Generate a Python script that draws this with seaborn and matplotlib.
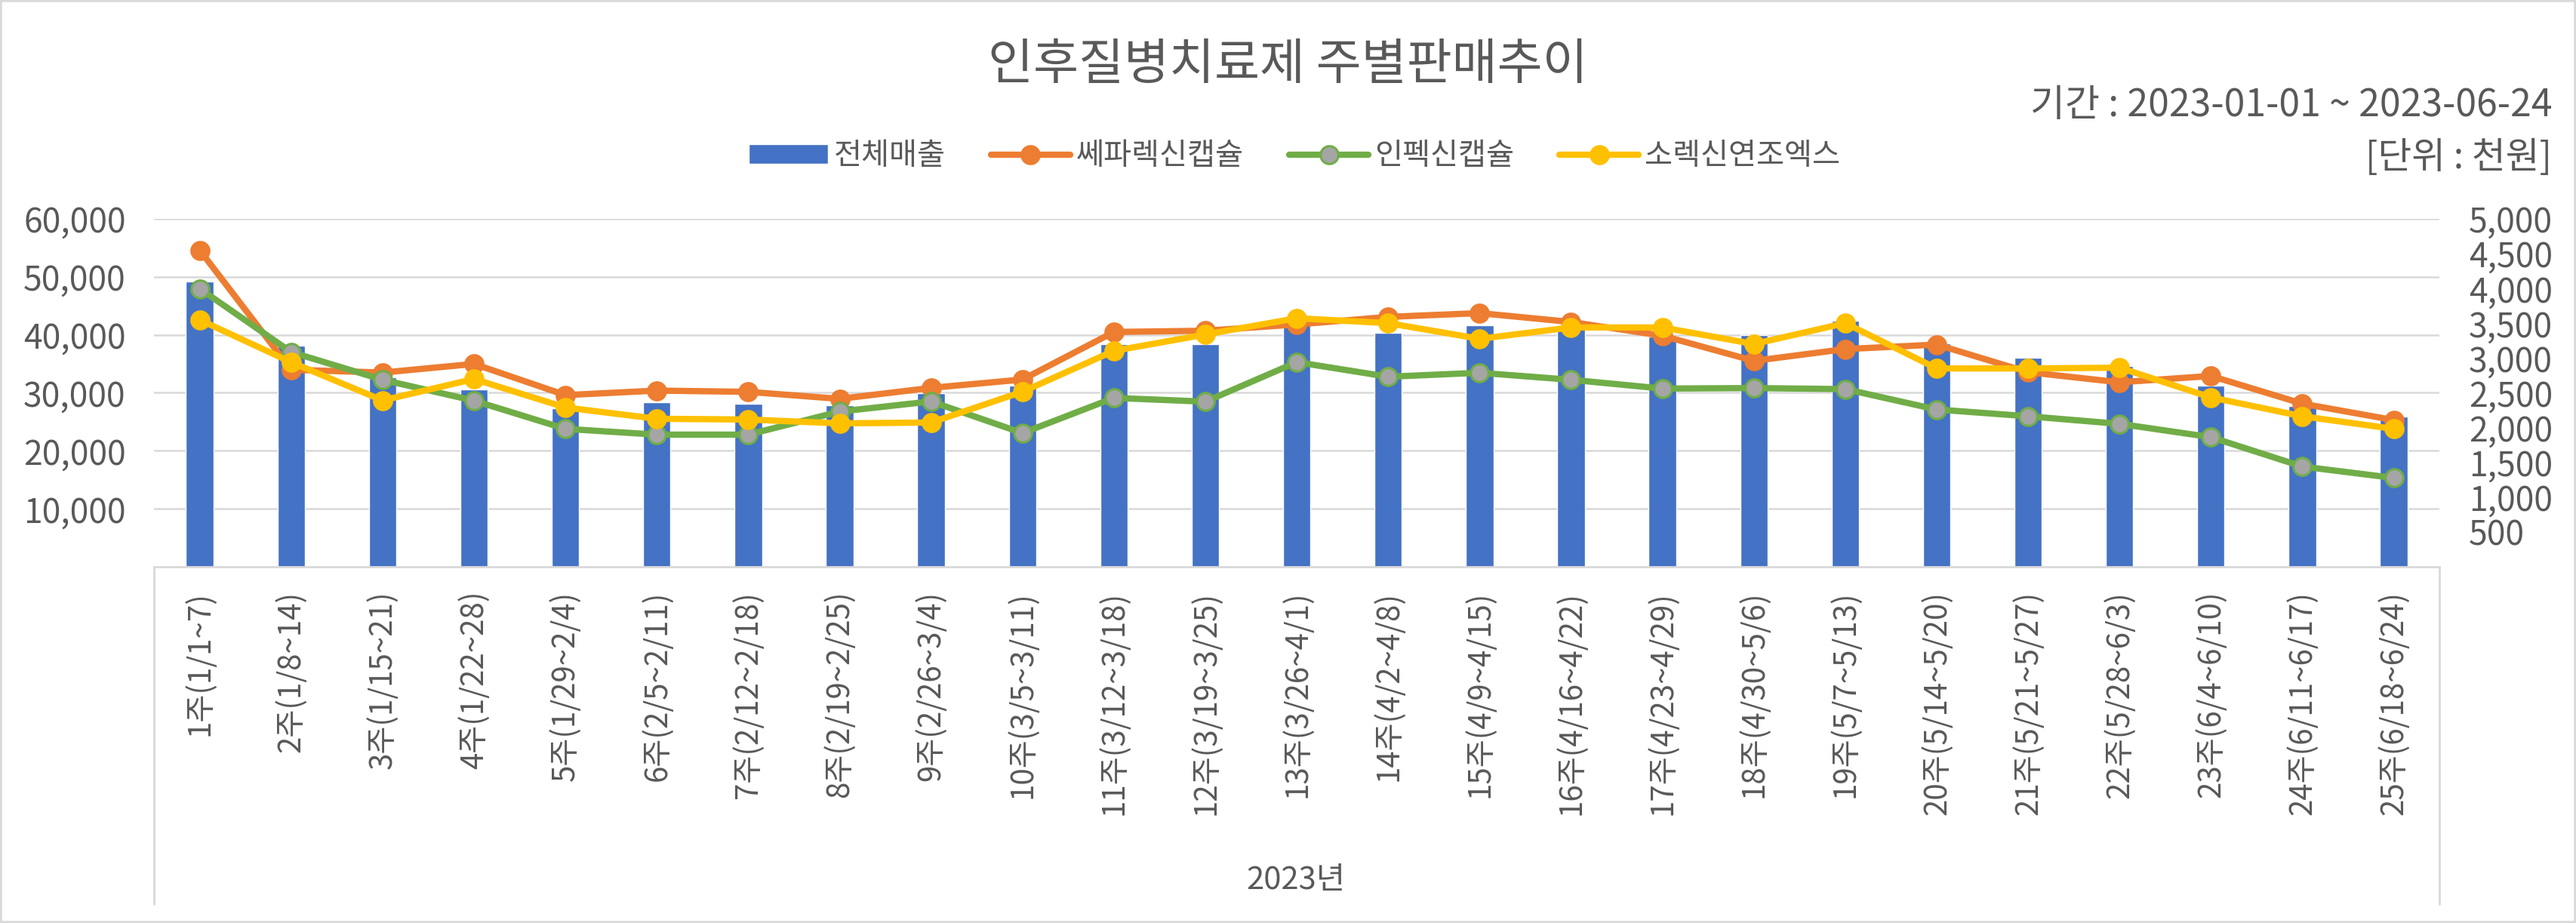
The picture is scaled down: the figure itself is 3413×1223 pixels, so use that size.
import matplotlib
matplotlib.use('Agg')
import matplotlib.pyplot as plt
import seaborn as sns
import pandas as pd
import numpy as np
from matplotlib.lines import Line2D
from matplotlib.patches import Patch, Rectangle
from matplotlib.ticker import FuncFormatter

# data
weeks = ['1주(1/1~7)', '2주(1/8~14)', '3주(1/15~21)', '4주(1/22~28)', '5주(1/29~2/4)',
         '6주(2/5~2/11)', '7주(2/12~2/18)', '8주(2/19~2/25)', '9주(2/26~3/4)', '10주(3/5~3/11)',
         '11주(3/12~3/18)', '12주(3/19~3/25)', '13주(3/26~4/1)', '14주(4/2~4/8)', '15주(4/9~4/15)',
         '16주(4/16~4/22)', '17주(4/23~4/29)', '18주(4/30~5/6)', '19주(5/7~5/13)', '20주(5/14~5/20)',
         '21주(5/21~5/27)', '22주(5/28~6/3)', '23주(6/4~6/10)', '24주(6/11~6/17)', '25주(6/18~6/24)']

total_sales = [49180, 38110, 32680, 30510, 27380, 28340, 28120, 27900, 29900, 31160,
               38320, 38350, 41800, 40360, 41580, 41500, 39630, 39930, 42360, 38450,
               36030, 34640, 31160, 27690, 25950]
cefalexin = [4548, 2831, 2790, 2914, 2466, 2531, 2513, 2412, 2570, 2690,
             3373, 3391, 3481, 3590, 3644, 3517, 3319, 2958, 3127, 3192,
             2795, 2650, 2741, 2343, 2107]
infecsin = [3995, 3084, 2686, 2386, 1981, 1898, 1898, 2230, 2375, 1920,
            2426, 2372, 2939, 2730, 2787, 2686, 2560, 2567, 2552, 2259,
            2162, 2053, 1862, 1439, 1276]
sorexin = [3547, 2939, 2390, 2697, 2288, 2126, 2115, 2060, 2072, 2515,
           3102, 3337, 3571, 3500, 3275, 3438, 3438, 3200, 3500, 2849,
           2849, 2860, 2433, 2162, 1981]

series_names = ['쎄파렉신캡슐', '인펙신캡슐', '소렉신연조엑스']
series_values = [cefalexin, infecsin, sorexin]
line_colors = ['#ED7D31', '#70AD47', '#FFC000']
face_colors = ['#ED7D31', '#A5A5A5', '#FFC000']

TEXT = '#595959'
GRID = '#D9D9D9'
BLUE = '#4472C4'

sns.set_style('white')
plt.rcParams['font.family'] = ['Noto Sans CJK KR', 'DejaVu Sans']
plt.rcParams['font.weight'] = 'light'
plt.rcParams['axes.unicode_minus'] = False

fig = plt.figure(figsize=(34.13, 12.23), dpi=100)
ax = fig.add_axes([0.0598, 0.386, 0.8872, 0.377])

df = pd.DataFrame({'week': weeks, 'total': total_sales})
sns.barplot(data=df, x='week', y='total', color=BLUE, saturation=1, width=0.3, ax=ax)

ax.set_ylim(0, 60000)
ax.set_yticks(range(10000, 60001, 10000))
ax.yaxis.set_major_formatter(FuncFormatter(lambda v, p: f'{int(v):,}'))
ax.yaxis.grid(True, color=GRID, lw=1.8)
ax.set_axisbelow(True)
for s in ['top', 'left', 'right']:
    ax.spines[s].set_visible(False)
ax.spines['bottom'].set_color(GRID)
ax.spines['bottom'].set_linewidth(2)
ax.set_xlabel('')
ax.set_ylabel('')
ax.set_xticks(range(len(weeks)))
ax.set_xticklabels(weeks, rotation=90, va='top', ha='center')
ax.tick_params(axis='x', length=0, pad=23, labelsize=29, labelcolor=TEXT)
ax.tick_params(axis='y', length=0, pad=27, labelsize=32, labelcolor=TEXT)

# secondary axis for the product lines
ax2 = ax.twinx()
x = np.arange(len(weeks))
for name, vals, lc, fc in zip(series_names, series_values, line_colors, face_colors):
    sns.lineplot(x=x, y=vals, ax=ax2, color=lc, lw=6, marker='o', markersize=17,
                 markerfacecolor=fc, markeredgecolor=lc, markeredgewidth=2.2)
ax2.set_ylim(0, 5000)
ax2.set_yticks(range(500, 5001, 500))
ax2.yaxis.set_major_formatter(FuncFormatter(lambda v, p: f'{int(v):,}'))
ax2.tick_params(axis='y', length=0, pad=28, labelsize=32, labelcolor=TEXT)
ax2.grid(False)
for s in ax2.spines.values():
    s.set_visible(False)
ax2.set_ylabel('')
ax.set_xlim(-0.5, len(weeks) - 0.5)

# category box lines below the axis
y_top = 0.386
y_bot = 1 - 1198 / 1223
for xf in [204 / 3413, 3232 / 3413]:
    fig.add_artist(Line2D([xf, xf], [y_top, y_bot], transform=fig.transFigure, color=GRID, lw=2))

fig.text(1717 / 3413, 1 - 1167 / 1223, '2023년', ha='center', va='center', fontsize=30, color=TEXT)

# titles and notes
fig.text(0.5, 1 - 87 / 1223, '인후질병치료제 주별판매추이', ha='center', va='center', fontsize=47, color=TEXT)
fig.text(3381 / 3413, 1 - 140 / 1223, '기간 : 2023-01-01 ~ 2023-06-24', ha='right', va='center',
         fontsize=36, color=TEXT)
fig.text(3381 / 3413, 1 - 209 / 1223, '[단위 : 천원]', ha='right', va='center', fontsize=35, color=TEXT)

handles = [Patch(facecolor=BLUE, label='전체매출')]
for name, lc, fc in zip(series_names, line_colors, face_colors):
    handles.append(Line2D([], [], color=lc, lw=6, marker='o', markersize=17,
                          markerfacecolor=fc, markeredgecolor=lc, markeredgewidth=2.2, label=name))
fig.legend(handles=handles, loc='center', bbox_to_anchor=(0.5025, 0.831), ncol=4, frameon=False,
           fontsize=29, handlelength=2.6, handleheight=0.6, handletextpad=0.2, columnspacing=1.5,
           labelcolor=TEXT)

fig.add_artist(Rectangle((0, 0), 1, 1, transform=fig.transFigure, fill=False, edgecolor=GRID, lw=4))

fig.savefig('out.png', dpi=100, facecolor='white')
